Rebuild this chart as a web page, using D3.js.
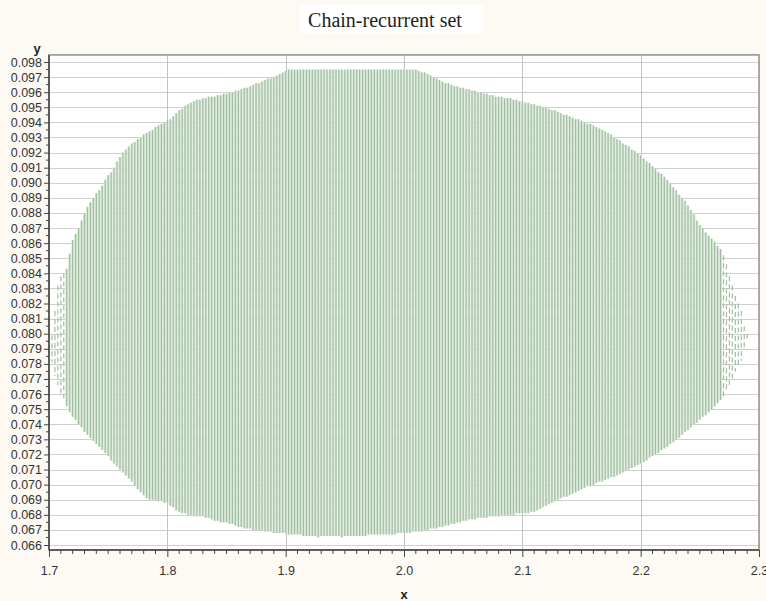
<!DOCTYPE html>
<html>
<head>
<meta charset="utf-8">
<script src="https://cdn.jsdelivr.net/npm/d3@7"></script>
<style>
  html, body { margin: 0; padding: 0; background: #fcfaf3; }
  svg { display: block; }
</style>
</head>
<body>
<svg id="chart" width="766" height="601"></svg>
<script>
// Grid of x columns computed for the chain-recurrent set
const colStartX = 1.715;
const colStepX = 0.0025;

// Upper end of each grid column (y)
const colTop = [
  .0843,.0853,.0862,.0866,.0870,.0875,.0880,.0884,.0887,.0890,
  .0893,.0895,.0898,.0902,.0905,.0907,.0910,.0914,.0917,.0920,
  .0922,.0924,.0926,.0927,.0929,.0930,.0932,.0933,.0934,.0935,
  .0937,.0938,.0939,.0940,.0941,.0942,.0944,.0946,.0948,.0949,
  .0951,.0952,.0953,.0954,.0955,.0955,.0956,.0956,.0957,.0957,
  .0957,.0958,.0958,.0959,.0959,.0960,.0960,.0961,.0961,.0962,
  .0963,.0963,.0964,.0965,.0966,.0966,.0967,.0968,.0969,.0969,
  .0970,.0971,.0972,.0973,.0974,.0975,.0975,.0975,.0975,.0975,
  .0975,.0975,.0975,.0975,.0975,.0975,.0975,.0975,.0975,.0975,
  .0975,.0975,.0975,.0975,.0975,.0975,.0975,.0975,.0975,.0975,
  .0975,.0975,.0975,.0975,.0975,.0975,.0975,.0975,.0975,.0975,
  .0975,.0975,.0975,.0975,.0975,.0975,.0975,.0975,.0975,.0974,
  .0973,.0973,.0972,.0971,.0970,.0969,.0968,.0967,.0966,.0966,
  .0965,.0964,.0964,.0963,.0963,.0962,.0962,.0961,.0961,.0960,
  .0960,.0959,.0959,.0958,.0958,.0957,.0957,.0957,.0956,.0956,
  .0956,.0955,.0955,.0954,.0954,.0953,.0953,.0952,.0952,.0951,
  .0951,.0950,.0950,.0949,.0948,.0948,.0947,.0946,.0945,.0945,
  .0944,.0943,.0942,.0942,.0941,.0940,.0939,.0939,.0938,.0937,
  .0936,.0935,.0934,.0933,.0932,.0930,.0929,.0928,.0926,.0925,
  .0924,.0922,.0921,.0919,.0918,.0916,.0914,.0913,.0911,.0909,
  .0907,.0906,.0904,.0902,.0899,.0897,.0895,.0892,.0890,.0888,
  .0885,.0882,.0879,.0875,.0872,.0870,.0867,.0865,.0863,.0861,
  .0858,.0856
];

// Lower end of each grid column (y)
const colBottom = [
  .0752,.0748,.0745,.0743,.0740,.0738,.0735,.0733,.0731,.0729,
  .0727,.0725,.0723,.0721,.0719,.0716,.0714,.0712,.0710,.0708,
  .0706,.0704,.0702,.0699,.0697,.0695,.0693,.0691,.0690,.0690,
  .0690,.0689,.0689,.0688,.0688,.0686,.0685,.0683,.0682,.0681,
  .0681,.0680,.0680,.0679,.0679,.0679,.0679,.0678,.0678,.0677,
  .0676,.0676,.0675,.0675,.0675,.0674,.0674,.0673,.0672,.0672,
  .0671,.0671,.0671,.0670,.0670,.0670,.0670,.0669,.0669,.0669,
  .0668,.0668,.0668,.0668,.0668,.0667,.0667,.0667,.0667,.0667,
  .0666,.0666,.0666,.0666,.0666,.0665,.0666,.0666,.0666,.0666,
  .0666,.0666,.0666,.0665,.0666,.0666,.0666,.0666,.0666,.0666,
  .0666,.0666,.0667,.0667,.0667,.0667,.0667,.0667,.0667,.0667,
  .0667,.0667,.0668,.0668,.0668,.0668,.0668,.0669,.0669,.0669,
  .0669,.0670,.0670,.0671,.0671,.0671,.0672,.0672,.0673,.0673,
  .0674,.0674,.0675,.0675,.0676,.0676,.0677,.0677,.0677,.0678,
  .0678,.0678,.0678,.0679,.0679,.0679,.0679,.0680,.0680,.0680,
  .0680,.0680,.0681,.0681,.0681,.0681,.0681,.0682,.0682,.0683,
  .0684,.0685,.0686,.0687,.0688,.0689,.0690,.0691,.0692,.0692,
  .0693,.0694,.0695,.0696,.0697,.0698,.0699,.0699,.0700,.0701,
  .0702,.0702,.0703,.0704,.0705,.0705,.0706,.0707,.0708,.0709,
  .0710,.0711,.0712,.0713,.0714,.0715,.0716,.0718,.0719,.0720,
  .0721,.0723,.0724,.0725,.0727,.0728,.0730,.0731,.0733,.0735,
  .0736,.0738,.0740,.0741,.0743,.0745,.0746,.0748,.0750,.0752,
  .0754,.0756
];

// Sparse columns at the two tips: x, lower y, upper y
const tipX    = [1.7025, 1.7050, 1.7075, 1.7100, 1.7125, 2.2700, 2.2725, 2.2750, 2.2775, 2.2800, 2.2825, 2.2850, 2.2875, 2.2900];
const tipLow  = [0.0781, 0.0772, 0.0766, 0.0760, 0.0756, 0.0758, 0.0762, 0.0766, 0.0770, 0.0775, 0.0778, 0.0782, 0.0790, 0.0795];
const tipHigh = [0.0799, 0.0815, 0.0832, 0.0838, 0.0840, 0.0852, 0.0846, 0.0838, 0.0832, 0.0825, 0.0820, 0.0815, 0.0805, 0.0800];

// Axis ticks
const xTicks = [1.7, 1.8, 1.9, 2.0, 2.1, 2.2, 2.3];
const xTickLabels = ["1.7", "1.8", "1.9", "2.0", "2.1", "2.2", "2.3"];
const yTicks = [0.066,0.067,0.068,0.069,0.070,0.071,0.072,0.073,0.074,0.075,0.076,0.077,0.078,0.079,0.080,0.081,0.082,0.083,0.084,0.085,0.086,0.087,0.088,0.089,0.090,0.091,0.092,0.093,0.094,0.095,0.096,0.097,0.098];
const titleText = "Chain-recurrent set";

const svg = d3.select("#chart");
const x = d3.scaleLinear().domain([1.7, 2.3]).range([49, 759]);
const y = d3.scaleLinear().domain([0.066, 0.098]).range([545, 62]);

const plotTop = y(0.09847), plotBottom = y(0.06567);
const plotLeft = x(1.7), plotRight = x(2.3);

// Plot background
svg.append("rect")
  .attr("x", plotLeft).attr("y", plotTop)
  .attr("width", plotRight - plotLeft).attr("height", plotBottom - plotTop)
  .attr("fill", "#ffffff");

// Grid lines
const grid = svg.append("g").attr("shape-rendering", "crispEdges");
grid.selectAll("line.h").data(yTicks).join("line")
  .attr("class", "h")
  .attr("x1", plotLeft).attr("x2", plotRight)
  .attr("y1", d => Math.round(y(d)) + 0.5).attr("y2", d => Math.round(y(d)) + 0.5)
  .attr("stroke", "#cfcfcf").attr("stroke-width", 1);
grid.selectAll("line.v").data(xTicks.slice(1, -1)).join("line")
  .attr("class", "v")
  .attr("x1", d => Math.round(x(d)) + 0.5).attr("x2", d => Math.round(x(d)) + 0.5)
  .attr("y1", plotTop).attr("y2", plotBottom)
  .attr("stroke", "#c4c4c4").attr("stroke-width", 1);

// Columns of the set
const cols = colTop.map((t, i) => ({ x: colStartX + i * colStepX, lo: colBottom[i], hi: t }));
const colW = x(colStartX + colStepX) - x(colStartX);
const set = svg.append("g");
set.selectAll("rect.col").data(cols).join("rect")
  .attr("class", "col")
  .attr("x", d => x(d.x) - colW / 2)
  .attr("width", colW)
  .attr("y", d => y(d.hi))
  .attr("height", d => y(d.lo) - y(d.hi))
  .attr("fill", "#dde9dd");
set.selectAll("line.col").data(cols).join("line")
  .attr("class", "col")
  .attr("x1", d => x(d.x)).attr("x2", d => x(d.x))
  .attr("y1", d => y(d.hi)).attr("y2", d => y(d.lo))
  .attr("stroke", "#9fbf9f").attr("stroke-width", 1.2);

// Sparse tips
const tips = tipX.map((v, i) => ({ x: v, lo: tipLow[i], hi: tipHigh[i] }));
set.selectAll("line.tip").data(tips).join("line")
  .attr("class", "tip")
  .attr("x1", d => x(d.x)).attr("x2", d => x(d.x))
  .attr("y1", d => y(d.hi)).attr("y2", d => y(d.lo))
  .attr("stroke", "#9fbf9f").attr("stroke-width", 1.2)
  .attr("stroke-dasharray", "5 3");

// Frame
svg.append("rect")
  .attr("x", plotLeft).attr("y", plotTop)
  .attr("width", plotRight - plotLeft).attr("height", plotBottom - plotTop)
  .attr("fill", "none").attr("stroke", "#8c8c8c").attr("stroke-width", 1.5);

// Y axis
const yAxis = d3.axisLeft(y)
  .tickValues(yTicks)
  .tickFormat(d3.format(".3f"))
  .tickSize(5).tickPadding(2);
const yg = svg.append("g").attr("transform", `translate(${plotLeft},0)`).call(yAxis);
yg.select(".domain").attr("d", `M0,${plotTop}V${plotBottom}`).attr("stroke", "#444").attr("stroke-width", 1.5);
yg.selectAll(".tick line").attr("stroke", "#444");
yg.selectAll(".tick text").attr("fill", "#333").style("font", "12.5px 'Liberation Sans', Arial, sans-serif");
// minor y ticks
const yMinor = yTicks.slice(0, -1).map(d => d + 0.0005);
svg.append("g").selectAll("line").data(yMinor).join("line")
  .attr("x1", plotLeft - 3).attr("x2", plotLeft)
  .attr("y1", d => y(d)).attr("y2", d => y(d))
  .attr("stroke", "#444");

// X axis
const xAxis = d3.axisBottom(x)
  .tickValues(xTicks)
  .tickFormat((d, i) => xTickLabels[i])
  .tickSize(7).tickPadding(9);
const xg = svg.append("g").attr("transform", `translate(0,${plotBottom})`).call(xAxis);
xg.select(".domain").attr("d", `M${plotLeft},0H${plotRight}`).attr("stroke", "#444").attr("stroke-width", 1.5);
xg.selectAll(".tick line").attr("stroke", "#444");
xg.selectAll(".tick text").attr("fill", "#333").style("font", "12.5px 'Liberation Sans', Arial, sans-serif");
// minor x ticks every 0.01
const xMinor = d3.range(0, 60).map(k => 1.7 + k * 0.01).filter((d, k) => k % 10 !== 0);
svg.append("g").selectAll("line").data(xMinor).join("line")
  .attr("x1", d => x(d)).attr("x2", d => x(d))
  .attr("y1", plotBottom).attr("y2", plotBottom + 4)
  .attr("stroke", "#444");

// Axis names
svg.append("text").attr("x", 37).attr("y", 53)
  .attr("text-anchor", "middle")
  .style("font", "bold 13px 'Liberation Sans', Arial, sans-serif").attr("fill", "#222")
  .text("y");
svg.append("text").attr("x", 404).attr("y", 599)
  .attr("text-anchor", "middle")
  .style("font", "bold 13px 'Liberation Sans', Arial, sans-serif").attr("fill", "#222")
  .text("x");

// Title
svg.append("rect").attr("x", 300).attr("y", 5).attr("width", 183).attr("height", 28).attr("fill", "#ffffff");
svg.append("text").attr("x", 385).attr("y", 27)
  .attr("text-anchor", "middle")
  .style("font", "20px 'Liberation Serif', 'Times New Roman', serif").attr("fill", "#222")
  .text(titleText);
</script>
</body>
</html>
